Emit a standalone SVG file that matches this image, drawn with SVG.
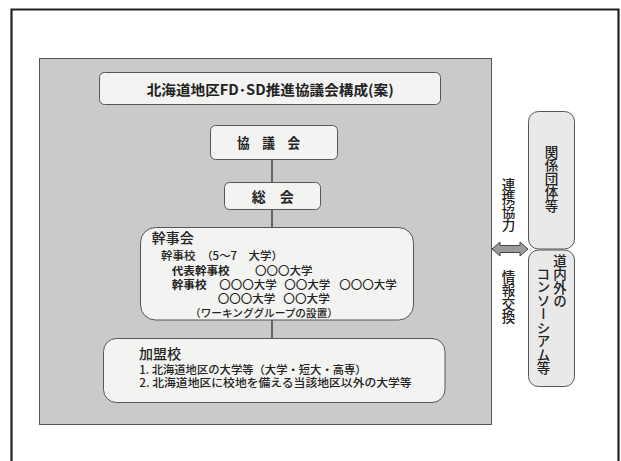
<svg xmlns="http://www.w3.org/2000/svg" width="621" height="461" viewBox="0 0 621 461">
<style>
text{font-family:"Noto Sans CJK JP","Noto Sans",sans-serif;fill:#222;}
.box{fill:#f3f3f1;stroke:#555;stroke-width:1;}
.rbox{fill:#e9e9e9;stroke:#555;stroke-width:1;}
.conn{stroke:#222;stroke-width:1.2;fill:none;}
.t14{font-size:14px;}
.b{font-weight:700;}
.t12{font-size:11px;}
.m{font-weight:500;}
.vt{writing-mode:vertical-rl;font-size:13.5px;font-weight:500;}
</style>
<rect x="0" y="0" width="621" height="461" fill="#ffffff"/>
<path d="M11.5 470 V9.5 H618.5 V470" fill="none" stroke="#222" stroke-width="2.2"/>
<g id="panel">
<rect x="39.5" y="58.5" width="452" height="366" fill="#c9cacc" stroke="#555" stroke-width="1"/>
</g>
<g id="connectors">
<line class="conn" x1="272" y1="159" x2="272" y2="182"/>
<line class="conn" x1="272" y1="209" x2="272" y2="228"/>
<line class="conn" x1="272" y1="320" x2="272" y2="338"/>
<path d="M492 249 L500 242 V245.5 H520 V242 L528 249 L520 256 V252.5 H500 V256 Z" fill="#9a9a9a" stroke="#444" stroke-width="1"/>
</g>
<g id="title">
<rect class="box" x="99.5" y="72.5" width="341" height="32" rx="5"/>
<text class="t14 b" x="146.7" y="94.5" textLength="247" lengthAdjust="spacingAndGlyphs">北海道地区FD･SD推進協議会構成(案)</text>
</g>
<g id="kyogikai">
<rect class="box" x="210.5" y="125.5" width="127" height="34" rx="5"/>
<text class="t14 b" x="237" y="148" textLength="63" lengthAdjust="spacingAndGlyphs">協　議　会</text>
</g>
<g id="sokai">
<rect class="box" x="224.5" y="182.5" width="96" height="27" rx="5"/>
<text class="t14 b" x="251.7" y="202" textLength="42" lengthAdjust="spacingAndGlyphs">総　会</text>
</g>
<g id="kanjikai">
<rect class="box" x="140.5" y="227.5" width="273" height="92.5" rx="15"/>
<text class="t14 m" x="151.7" y="242.5">幹事会</text>
<text class="t12 m" x="161" y="259.5" textLength="122" lengthAdjust="spacingAndGlyphs">幹事校　（5～7　大学）</text>
<text class="t12 b" x="171.7" y="274.5" textLength="58" lengthAdjust="spacingAndGlyphs">代表幹事校</text>
<text class="t12 m" x="255" y="274.5" textLength="57.5" lengthAdjust="spacingAndGlyphs">〇〇〇大学</text>
<text class="t12 b" x="171.7" y="289" textLength="35" lengthAdjust="spacingAndGlyphs">幹事校</text>
<text class="t12 m" x="219.3" y="289" textLength="57.5" lengthAdjust="spacingAndGlyphs">〇〇〇大学</text>
<text class="t12 m" x="284.3" y="289" textLength="46" lengthAdjust="spacingAndGlyphs">〇〇大学</text>
<text class="t12 m" x="339.3" y="289" textLength="57.5" lengthAdjust="spacingAndGlyphs">〇〇〇大学</text>
<text class="t12 m" x="217.7" y="303" textLength="57.5" lengthAdjust="spacingAndGlyphs">〇〇〇大学</text>
<text class="t12 m" x="283.3" y="303" textLength="46.5" lengthAdjust="spacingAndGlyphs">〇〇大学</text>
<text class="m" x="190" y="316.5" font-size="10.5" textLength="148" lengthAdjust="spacingAndGlyphs">（ワーキンググループの設置）</text>
</g>
<g id="kameiko">
<rect class="box" x="103.5" y="338.5" width="341.5" height="64" rx="13"/>
<text class="t14 m" x="139" y="358.5">加盟校</text>
<text class="m" x="139.3" y="373.5" font-size="11" textLength="227.4" lengthAdjust="spacingAndGlyphs">1. 北海道地区の大学等（大学・短大・高専）</text>
<text class="m" x="139.3" y="387" font-size="11" textLength="272.4" lengthAdjust="spacingAndGlyphs">2. 北海道地区に校地を備える当該地区以外の大学等</text>
</g>
<g id="kankei">
<rect class="rbox" x="528.5" y="111.5" width="46" height="137.5" rx="10"/>
<text class="vt" x="551.5" y="145">関係団体等</text>
</g>
<g id="consortium">
<rect class="rbox" x="528.5" y="250" width="46" height="136.5" rx="10"/>
<text class="vt" x="560" y="254">道内外の</text>
<text class="vt" x="543.5" y="267">コンソーシアム等</text>
</g>
<g id="labels">
<text class="vt" x="508.5" y="178">連携協力</text>
<text class="vt" x="508.5" y="270">情報交換</text>
</g>
</svg>
